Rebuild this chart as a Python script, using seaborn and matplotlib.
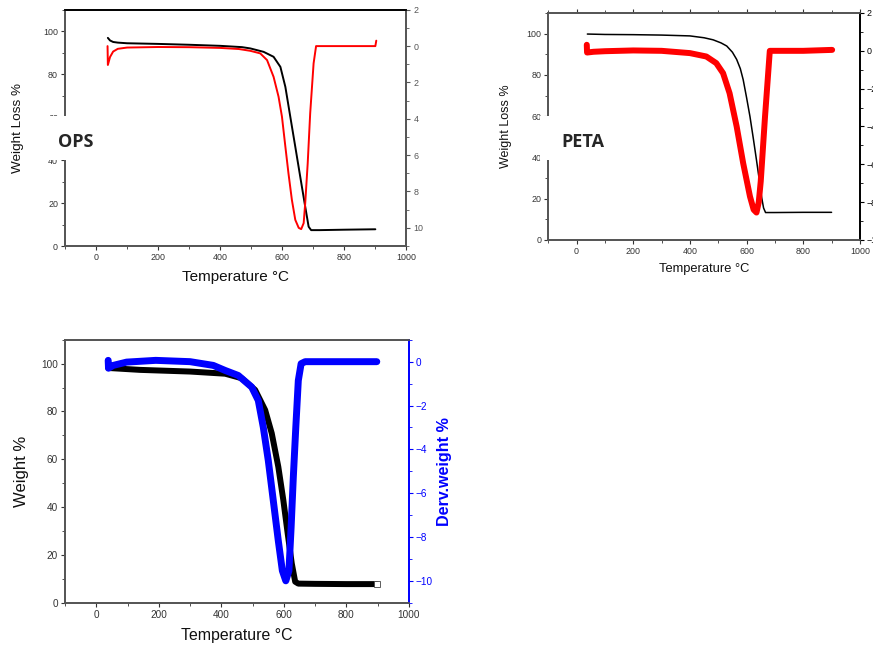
"""Three TGA / DTG panels (OPS, PETA, blend) redrawn with seaborn."""

import matplotlib

matplotlib.use("Agg")
import matplotlib.pyplot as plt
import seaborn as sns
from matplotlib.patches import Rectangle
from matplotlib.ticker import FuncFormatter, MultipleLocator

# OPS: weight (left axis) and derivative (right axis)
ops_temp_w = [38, 45, 55, 70, 100, 200, 300, 400, 470, 497, 540, 572, 594,
              610, 626, 642, 658, 674, 685, 693, 720, 800, 900]
ops_weight = [96.9, 95.7, 95.0, 94.7, 94.4, 94.1, 93.7, 93.2, 92.6, 92.0,
              90.4, 88.1, 83.4, 74.1, 60.1, 46.2, 32.2, 18.3, 9.0, 7.4,
              7.4, 7.6, 7.8]
ops_temp_d = [37, 38, 45, 55, 70, 100, 200, 300, 400, 460, 497, 529, 551,
              572, 588, 599, 610, 620, 631, 642, 653, 661, 669, 674, 682,
              690, 701, 709, 800, 900, 903]
ops_deriv = [0.0, -1.04, -0.6, -0.3, -0.15, -0.08, -0.05, -0.06, -0.1,
             -0.16, -0.26, -0.40, -0.77, -1.69, -2.78, -3.88, -5.53, -7.0,
             -8.46, -9.56, -10.0, -10.07, -9.74, -8.64, -6.45, -3.70, -0.95,
             0.0, 0.0, 0.0, 0.3]

# PETA
peta_temp_w = [38, 100, 200, 300, 400, 450, 482, 510, 530, 550, 565, 578,
               588, 600, 612, 624, 635, 645, 653, 660, 667, 700, 800, 900]
peta_weight = [99.8, 99.6, 99.5, 99.3, 98.9, 98.0, 97.0, 95.5, 94.0, 91.0,
               87.5, 83.0, 77.7, 69.0, 59.8, 49.0, 38.7, 29.0, 20.8, 15.5,
               13.3, 13.3, 13.4, 13.4]
peta_temp_d = [36, 37, 60, 100, 200, 300, 400, 458, 493, 517, 540, 565, 588,
               612, 625, 635, 643, 650, 665, 682, 720, 800, 902]
peta_deriv = [0.32, -0.09, -0.05, -0.02, 0.02, 0.0, -0.12, -0.3, -0.65,
              -1.18, -2.24, -4.0, -5.94, -7.7, -8.4, -8.55, -8.0, -6.9, -3.5,
              0.0, 0.0, 0.0, 0.05]

# Blend (bottom panel)
blend_temp_w = [38, 140, 300, 412, 465, 508, 540, 561, 582, 598, 612, 625,
                636, 646, 700, 800, 897]
blend_weight = [98.2, 97.4, 96.7, 95.8, 93.9, 89.0, 80.6, 70.9, 56.9, 43.0,
                29.0, 16.5, 8.8, 8.0, 7.9, 7.8, 7.8]
blend_temp_d = [38, 39, 54, 97, 190, 300, 374, 412, 454, 497, 518, 534, 550,
                566, 582, 595, 606, 616, 623, 630, 638, 646, 655, 668, 800,
                897]
blend_deriv = [0.06, -0.3, -0.17, -0.02, 0.06, 0.0, -0.17, -0.40, -0.63,
               -1.16, -1.77, -2.99, -4.51, -6.34, -8.17, -9.54, -10.0, -9.54,
               -7.56, -5.28, -2.99, -0.86, -0.09, 0.0, 0.0, 0.0]

TICK_GREY = "#333333"
SPINE_GREY = "#555555"
BLUE = "#0000FF"

sns.set_theme(style="ticks")
plt.rcParams["font.family"] = ["Liberation Sans", "DejaVu Sans"]

fig = plt.figure(figsize=(8.73, 6.5), dpi=100)


def setup_panel(rect, right_lim, tick_size, label_size, ylabel, ylabel_pad,
                right_color=SPINE_GREY, top_color="black"):
    ax = fig.add_axes(rect)
    ax2 = ax.twinx()
    ax.set_xlim(-100, 1000)
    ax.set_ylim(0, 110)
    ax2.set_ylim(*right_lim)
    ax.xaxis.set_major_locator(MultipleLocator(200))
    ax.xaxis.set_minor_locator(MultipleLocator(100))
    ax.yaxis.set_major_locator(MultipleLocator(20))
    ax.yaxis.set_minor_locator(MultipleLocator(10))
    ax2.yaxis.set_major_locator(MultipleLocator(2))
    ax2.yaxis.set_minor_locator(MultipleLocator(1))
    for a in (ax, ax2):
        a.tick_params(which="major", direction="out", length=3, width=0.8,
                      labelsize=tick_size, colors=TICK_GREY, pad=2)
        a.tick_params(which="minor", direction="out", length=2, width=0.6,
                      colors=TICK_GREY)
        for side in ("left", "bottom"):
            a.spines[side].set_color(SPINE_GREY)
        a.spines["top"].set_color(top_color)
        a.spines["right"].set_color(right_color)
    ax2.tick_params(axis="y", which="both", colors=right_color)
    ax.set_ylabel(ylabel, fontsize=label_size, labelpad=ylabel_pad,
                  color="#111111")
    return ax, ax2


# --- OPS ---
ax, ax2 = setup_panel([0.0745, 0.6215, 0.391, 0.3635], (-11, 2), 6.4, 9.7,
                      "Weight Loss %", 13.5)
sns.lineplot(x=ops_temp_w, y=ops_weight, ax=ax, color="black", lw=1.4,
             sort=False, estimator=None)
sns.lineplot(x=ops_temp_d, y=ops_deriv, ax=ax2, color="#FF0000", lw=1.4,
             sort=False, estimator=None)
ax2.yaxis.set_major_formatter(FuncFormatter(lambda v, _: f"{abs(v):.0f}"))
ax.set_xlabel("Temperature °C", fontsize=11, labelpad=6, color="#111111")
ax2.set_ylabel("")

# --- PETA ---
ax, ax2 = setup_panel([0.628, 0.6308, 0.357, 0.3492], (-10, 2), 6.4, 9,
                      "Weight Loss %", 10.5, right_color="black",
                      top_color=SPINE_GREY)
ax.tick_params(axis="x", which="both", top=True)
sns.lineplot(x=peta_temp_w, y=peta_weight, ax=ax, color="black", lw=1.1,
             sort=False, estimator=None)
sns.lineplot(x=peta_temp_d, y=peta_deriv, ax=ax2, color="#FF0000", lw=4.3,
             sort=False, estimator=None, solid_capstyle="round")
ax.set_xlabel("Temperature °C", fontsize=9.3, labelpad=5, color="#111111")
ax2.set_ylabel("")

# --- blend ---
ax, ax2 = setup_panel([0.0745, 0.0727, 0.394, 0.4046], (-11, 1), 7.2, 12,
                      "Weight %", 8.5, right_color=BLUE,
                      top_color=SPINE_GREY)
sns.lineplot(x=blend_temp_w, y=blend_weight, ax=ax, color="black", lw=4.3,
             sort=False, estimator=None)
ax.plot(blend_temp_w[-1], blend_weight[-1], marker="s", ms=4, mfc="white",
        mec="#444444", mew=0.6)
sns.lineplot(x=blend_temp_d, y=blend_deriv, ax=ax2, color=BLUE, lw=5,
             sort=False, estimator=None, solid_capstyle="round")
ax.set_xlabel("Temperature °C", fontsize=11.4, labelpad=6, color="#111111")
ax2.set_ylabel("Derv.weight %", fontsize=11.6, fontweight="bold", color=BLUE,
               labelpad=3)

# white label boxes that sit over the left axis
for (x0, w), name, tx in [((0.0458, 0.074), "OPS", 0.0665),
                          ((0.6186, 0.082), "PETA", 0.6426)]:
    fig.patches.append(Rectangle((x0, 0.754), w, 0.068,
                                 transform=fig.transFigure,
                                 facecolor="white", edgecolor="none",
                                 zorder=5))
    fig.text(tx, 0.7815, name, fontsize=13, fontweight="bold",
             family=["Open Sans", "DejaVu Sans"], va="center", ha="left",
             zorder=6)

fig.savefig("out.png", dpi=100)
